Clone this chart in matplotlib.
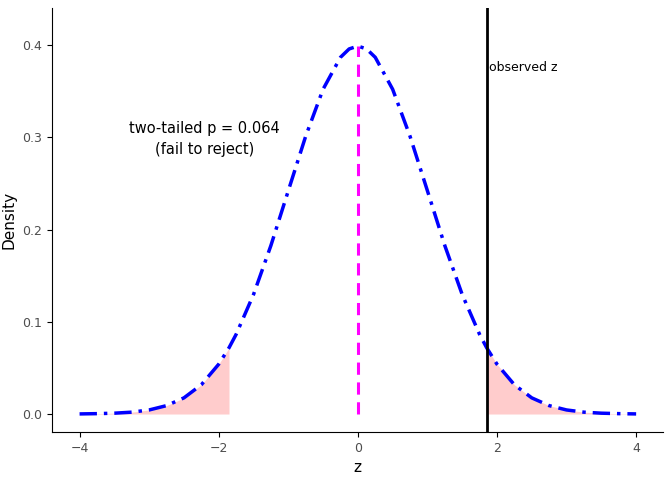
import matplotlib
matplotlib.use("Agg")
import matplotlib.pyplot as plt
import numpy as np

z = [-4, -3.75, -3.5, -3.25, -3, -2.75, -2.5, -2.25, -2, -1.852, -1.75, -1.5, -1.25, -1, -0.75, -0.5, -0.25, -0.125,
     0, 0.125, 0.25, 0.5, 0.75, 1, 1.25, 1.5, 1.75, 1.852, 2, 2.25, 2.5, 2.75, 3, 3.25, 3.5, 3.75, 4]
dens = [0.0001, 0.0004, 0.0009, 0.0020, 0.0044, 0.0091, 0.0175, 0.0317, 0.0540, 0.0718, 0.0863, 0.1295, 0.1826,
        0.2420, 0.3011, 0.3521, 0.3867, 0.3958, 0.3989, 0.3958, 0.3867, 0.3521, 0.3011, 0.2420, 0.1826, 0.1295,
        0.0863, 0.0718, 0.0540, 0.0317, 0.0175, 0.0091, 0.0044, 0.0020, 0.0009, 0.0004, 0.0001]
observed_z = 1.852

z = np.array(z); dens = np.array(dens)
fig = plt.figure(figsize=(6.72, 4.8), dpi=100)
ax = fig.add_axes([0.077, 0.1, 0.91, 0.883])
lo = z <= -observed_z + 1e-9
hi = z >= observed_z - 1e-9
ax.fill_between(z[lo], 0, dens[lo], color="#FFCCCC", lw=0)
ax.fill_between(z[hi], 0, dens[hi], color="#FFCCCC", lw=0)
ax.plot(z, dens, color="blue", lw=2.5, ls=(0, (5, 2, 1, 2)))
ax.plot([0, 0], [0, 0.3989], color="magenta", lw=2.2, ls=(0, (4, 2.5)))
ax.axvline(observed_z, color="black", lw=2)
ax.text(observed_z + 0.04, 0.376, "observed z", fontsize=9, ha="left", va="center")
ax.text(-2.2, 0.298, "two-tailed p = 0.064\n(fail to reject)", fontsize=10.5, ha="center", va="center", linespacing=1.5)
ax.set_xlim(-4.4, 4.39)
ax.set_ylim(-0.0195, 0.44)
ax.set_xticks([-4, -2, 0, 2, 4])
ax.set_yticks([0, 0.1, 0.2, 0.3, 0.4])
ax.set_yticklabels(["0.0", "0.1", "0.2", "0.3", "0.4"])
ax.tick_params(labelsize=9, colors="#4D4D4D")
ax.tick_params(axis="both", color="black")
for s in ["top", "right"]:
    ax.spines[s].set_visible(False)
ax.set_xlabel("z", fontsize=11)
ax.set_ylabel("Density", fontsize=11)
fig.savefig("out.png", dpi=100)
